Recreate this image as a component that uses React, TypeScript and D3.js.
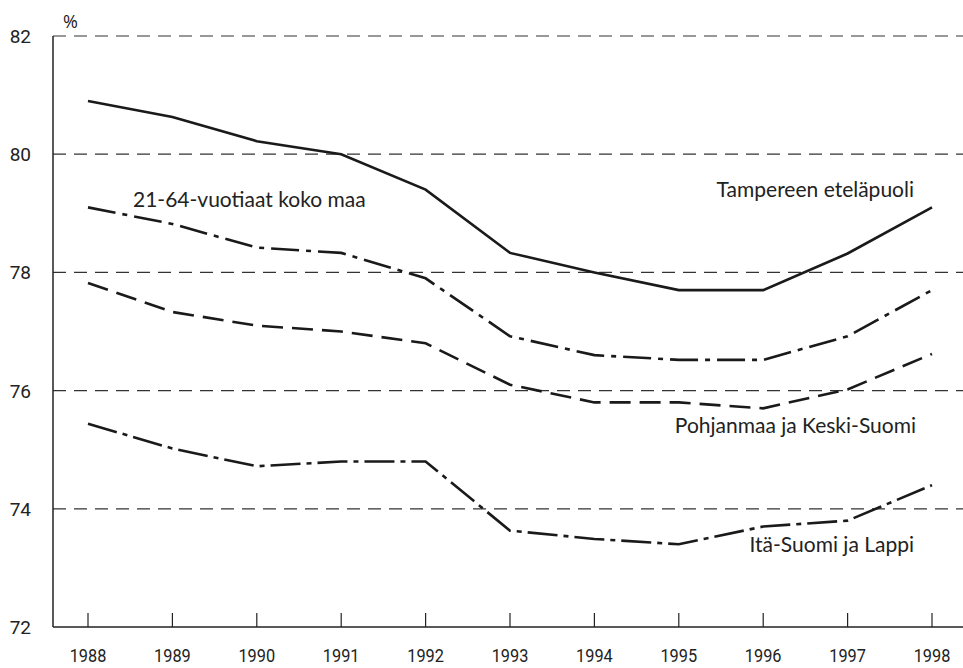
import * as d3 from "d3";
import { useEffect, useRef } from "react";

const years = [1988, 1989, 1990, 1991, 1992, 1993, 1994, 1995, 1996, 1997, 1998];
const tampere = [80.9, 80.63, 80.22, 80.0, 79.4, 78.33, 78.0, 77.7, 77.7, 78.32, 79.1];
const koko = [79.1, 78.82, 78.42, 78.33, 77.9, 76.92, 76.6, 76.52, 76.52, 76.92, 77.7];
const pohjanmaa = [77.82, 77.33, 77.1, 77.0, 76.8, 76.1, 75.8, 75.8, 75.7, 76.02, 76.62];
const itaSuomi = [75.44, 75.02, 74.72, 74.8, 74.8, 73.63, 73.49, 73.4, 73.7, 73.8, 74.4];
const yTicks = [72, 74, 76, 78, 80, 82];

const seriesNames = ["Tampereen eteläpuoli", "21-64-vuotiaat koko maa", "Pohjanmaa ja Keski-Suomi", "Itä-Suomi ja Lappi"];

export default function App() {
    const svgRef = useRef<SVGSVGElement | null>(null);
    const width = 963;
    const height = 668;

    useEffect(() => {
        const svg = d3.select(svgRef.current)
            .attr("width", width)
            .attr("height", height);

        svg.selectAll("*").remove();

        const x = d3.scaleLinear().domain([1988, 1998]).range([88, 932]);
        const y = d3.scaleLinear().domain([72, 82]).range([627, 36]);

        // grid lines
        svg.append("g")
            .selectAll("line")
            .data(yTicks.filter(t => t > 72))
            .join("line")
            .attr("x1", 53)
            .attr("x2", width)
            .attr("y1", d => y(d))
            .attr("y2", d => y(d))
            .attr("stroke", "#333")
            .attr("stroke-width", 1.2)
            .attr("stroke-dasharray", "13,8");

        // y labels
        svg.append("g")
            .selectAll("text")
            .data(yTicks)
            .join("text")
            .attr("x", 31)
            .attr("y", d => y(d) + 7)
            .attr("text-anchor", "end")
            .attr("font-family", "Roboto, 'Liberation Sans', sans-serif")
            .attr("font-size", 19)
            .attr("fill", "#222")
            .text(d => d);

        svg.append("text")
            .attr("x", 63)
            .attr("y", 28)
            .attr("font-family", "'Open Sans', sans-serif")
            .attr("font-size", 18)
            .attr("fill", "#222")
            .text("%");

        // axes
        svg.append("line")
            .attr("x1", 53).attr("x2", 53)
            .attr("y1", 36).attr("y2", 627)
            .attr("stroke", "#222").attr("stroke-width", 1.5);

        svg.append("line")
            .attr("x1", 53).attr("x2", width)
            .attr("y1", 627).attr("y2", 627)
            .attr("stroke", "#222").attr("stroke-width", 1.5);

        svg.append("g")
            .selectAll("line")
            .data(years)
            .join("line")
            .attr("x1", d => x(d)).attr("x2", d => x(d))
            .attr("y1", 613).attr("y2", 627)
            .attr("stroke", "#222").attr("stroke-width", 1.2);

        // narrow year labels
        svg.append("g")
            .selectAll("text")
            .data(years)
            .join("text")
            .attr("transform", d => `translate(${x(d)},662) scale(0.86,1)`)
            .attr("text-anchor", "middle")
            .attr("font-family", "Roboto, 'Liberation Sans', sans-serif")
            .attr("font-size", 19)
            .attr("fill", "#222")
            .text(d => d);

        const line = d3.line<number>()
            .x((d, i) => x(years[i]))
            .y(d => y(d));

        const series = [
            { values: tampere, dash: null },
            { values: koko, dash: "28,7,5,7" },
            { values: pohjanmaa, dash: "21,9" },
            { values: itaSuomi, dash: "30,6,5,6" },
        ];

        svg.append("g")
            .selectAll("path")
            .data(series)
            .join("path")
            .attr("d", d => line(d.values))
            .attr("fill", "none")
            .attr("stroke", "#1a1a1a")
            .attr("stroke-width", 2.6)
            .attr("stroke-dasharray", d => d.dash);

        const labels = [
            { text: seriesNames[0], x: 914, y: 197, anchor: "end" },
            { text: seriesNames[1], x: 133, y: 207, anchor: "start" },
            { text: seriesNames[2], x: 916, y: 433, anchor: "end" },
            { text: seriesNames[3], x: 914, y: 552, anchor: "end" },
        ];

        svg.append("g")
            .selectAll("text")
            .data(labels)
            .join("text")
            .attr("x", d => d.x)
            .attr("y", d => d.y)
            .attr("text-anchor", d => d.anchor)
            .attr("font-family", "Lato, 'Open Sans', sans-serif")
            .attr("font-size", 21)
            .attr("fill", "#222")
            .text(d => d.text);
    }, []);

    return <svg ref={svgRef} style={{ position: "absolute", left: 0, top: 0, background: "#fff" }} />;
}
